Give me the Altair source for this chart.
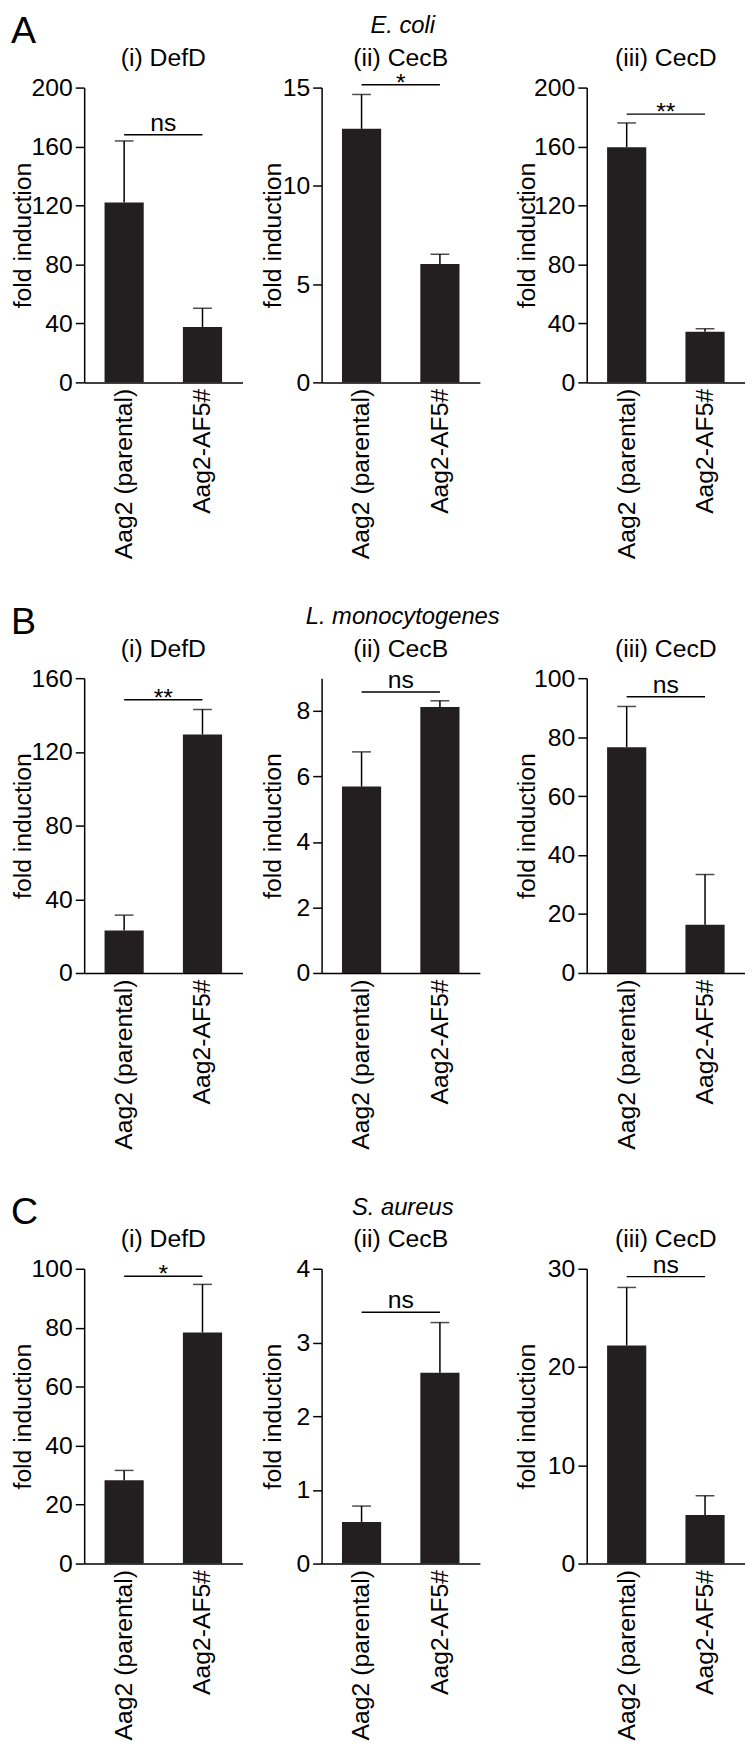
import altair as alt
import pandas as pd

FONT = "Liberation Sans"

# ---------------- data ----------------
groups = ["Aag2 (parental)", "Aag2-AF5#"]
letters = ["A", "B", "C"]
organisms = ["E. coli", "L. monocytogenes", "S. aureus"]
genes = ["(i) DefD", "(ii) CecB", "(iii) CecD"]

parental_mean = [[122, 12.9, 159.6], [23, 5.69, 76.6], [28.3, 0.565, 22.2]]
parental_upper = [[163.8, 14.65, 176], [31.4, 6.75, 90.4], [31.6, 0.78, 28.1]]
af5_mean = [[37.6, 6.02, 34.4], [129.5, 8.12, 16.4], [78.4, 2.59, 4.94]]
af5_upper = [[50.3, 6.52, 36.4], [143, 8.31, 33.4], [94.7, 3.27, 6.9]]

sig_label = [["ns", "*", "**"], ["**", "ns", "ns"], ["*", "ns", "ns"]]
sig_height = [[168, 15.15, 182], [148.3, 8.58, 93.7], [97.5, 3.41, 29.2]]

y_max = [[200, 15, 200], [160, 9, 100], [100, 4, 30]]
y_ticks = [
    [[0, 40, 80, 120, 160, 200], [0, 5, 10, 15], [0, 40, 80, 120, 160, 200]],
    [[0, 40, 80, 120, 160], [0, 2, 4, 6, 8], [0, 20, 40, 60, 80, 100]],
    [[0, 20, 40, 60, 80, 100], [0, 1, 2, 3, 4], [0, 10, 20, 30]],
]

# ---------------- layout / style ----------------
W, H = 160, 298
PAD_IN, PAD_OUT = 0.5, 0.26
STEP = W / (2 - PAD_IN + 2 * PAD_OUT)
FS = 25
BAR_COLOR = "#231f20"
TITLE_X = [-49, -37, -48]
SPACE_12, SPACE_23, ROW_SPACE = 18, 35, 45


def ypx(v, ymax):
    return H * (1 - v / ymax)


def panel(r, c):
    ymax = y_max[r][c]
    ticks = y_ticks[r][c]
    df = pd.DataFrame({
        "group": groups,
        "mean": [parental_mean[r][c], af5_mean[r][c]],
        "upper": [parental_upper[r][c], af5_upper[r][c]],
    })
    sig = pd.DataFrame({
        "group": [groups[0]],
        "group2": [groups[1]],
        "mean": [sig_height[r][c]],
        "label": [sig_label[r][c]],
    })

    xscale = alt.Scale(domain=groups, paddingInner=PAD_IN, paddingOuter=PAD_OUT)
    xaxis = alt.Axis(labelAngle=-90, labelFontSize=FS, labelColor="black", labelFont=FONT,
                     labelPadding=6, labelLimit=400, ticks=False, tickSize=0,
                     domainColor="black", domainWidth=1.5, title=None)
    yscale = alt.Scale(domain=[0, ymax], nice=False, zero=True)
    yaxis = alt.Axis(values=ticks, title="fold induction", titleX=TITLE_X[c], titleY=H / 2,
                     titleAngle=270, titleBaseline="bottom", titleAlign="center",
                     titleFontSize=FS, titleFontWeight="normal", titleColor="black", titleFont=FONT,
                     labelFontSize=FS, labelColor="black", labelFont=FONT, labelPadding=3,
                     tickSize=9, tickWidth=1.5, tickColor="black",
                     domainColor="black", domainWidth=1.5, grid=False)

    def X(field):
        return alt.X(field, type="nominal", sort=groups, scale=xscale, axis=xaxis, title=None)

    def Y(field):
        return alt.Y(field, type="quantitative", scale=yscale, axis=yaxis, title="fold induction")

    base = alt.Chart(df)
    bars = base.mark_bar(color=BAR_COLOR).encode(x=X("group"), y=Y("mean"))
    err = base.mark_rule(color="black", strokeWidth=1.5).encode(
        x=X("group"), y=Y("mean"), y2="upper:Q")
    cap = base.mark_tick(color="black", orient="horizontal", size=19, thickness=1.5).encode(
        x=X("group"), y=Y("upper"))

    lab = sig_label[r][c]
    dy = -4 if lab == "ns" else 6
    sbase = alt.Chart(sig)
    sline = sbase.mark_rule(color="black", strokeWidth=1.5).encode(
        x=X("group"), x2="group2:N", y=Y("mean"))
    stext = sbase.mark_text(font=FONT, fontSize=FS, color="black", align="center",
                            baseline="alphabetic", dx=STEP / 2, dy=dy).encode(
        x=X("group"), y=Y("mean"), text="label:N")

    # keep all subplot titles at the same height above the plot area
    label_top = ypx(max(ticks), ymax) - 12
    sig_top = ypx(sig_height[r][c], ymax) + dy - 20
    vb_top = min(-0.75, label_top, sig_top)
    off = vb_top + 16.75

    return alt.layer(bars, err, cap, sline, stext).properties(
        width=W, height=H,
        title=alt.TitleParams(genes[c], fontSize=FS, font=FONT, fontWeight="normal",
                              color="black", anchor="middle", frame="group", offset=off),
    )


rows = []
for r in range(3):
    ch = [panel(r, c) for c in range(3)]
    inner = alt.hconcat(ch[0], ch[1], spacing=SPACE_12)
    row = alt.hconcat(inner, ch[2], spacing=SPACE_23).properties(
        title=alt.TitleParams(organisms[r], fontStyle="italic", fontSize=24, font=FONT,
                              fontWeight="normal", color="black", anchor="middle",
                              frame="bounds", dx=25, offset=8)
    )
    wrapped = alt.vconcat(row).properties(
        title=alt.TitleParams(letters[r], fontSize=38, font=FONT, fontWeight="normal",
                              color="black", anchor="start", frame="bounds", offset=-37)
    )
    rows.append(wrapped)

chart = (
    alt.vconcat(*rows, spacing=ROW_SPACE)
    .properties(padding={"top": -4, "left": 3, "right": 0, "bottom": 0})
    .configure(font=FONT)
    .configure_view(strokeWidth=0, stroke=None)
)

chart.save("out.html", embed_options={"renderer": "svg", "actions": False})
